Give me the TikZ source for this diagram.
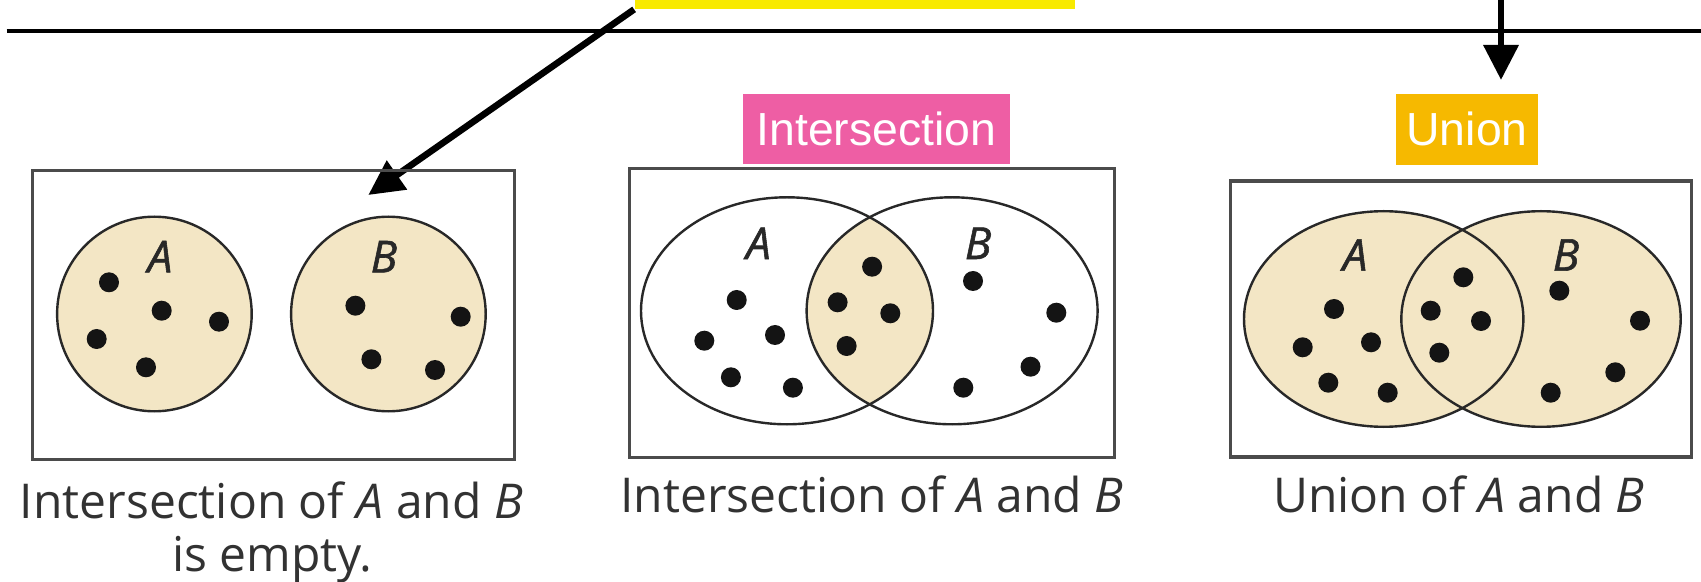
\documentclass[tikz,border=0pt]{standalone}
\usepackage{fontspec}
\newfontfamily\capfont{Open Sans}
\newfontfamily\labfont{Liberation Sans}
\usetikzlibrary{arrows.meta,shapes.geometric}
\definecolor{venn}{RGB}{243,230,197}
\definecolor{pinkbg}{RGB}{238,94,164}
\definecolor{orangebg}{RGB}{246,185,0}
\definecolor{yellowbg}{RGB}{248,234,0}
\definecolor{setline}{RGB}{40,40,40}
\definecolor{boxline}{RGB}{75,75,75}
\definecolor{captext}{RGB}{50,50,50}
\definecolor{dotc}{RGB}{20,20,20}
\begin{document}
\begin{tikzpicture}[x=0.5pt,y=-0.5pt,
  frame/.style={draw=boxline,line width=1.6pt,inner sep=0pt},
  setshape/.style={draw=setline,line width=1.2pt,inner sep=0pt},
  setlabel/.style={font=\capfont\itshape\addfontfeatures{FakeBold=1.3}\fontsize{22}{26}\selectfont,text=setline,inner sep=0pt},
  caption/.style={font=\capfont\fontsize{24}{28}\selectfont,text=captext,anchor=base,inner sep=0pt},
  tag/.style={font=\labfont\fontsize{23.2}{27}\selectfont,text=white,inner sep=0pt},
  arr/.style={line width=3.3pt,-{Triangle[length=17.5pt,width=17pt]}},
  rule/.style={line width=2pt}
]
\useasboundingbox (0,0) rectangle (1701,582);
\fill[white] (0,0) rectangle (1701,582);

% top
\node[fill=yellowbg,inner sep=0pt,minimum width=220.15pt,minimum height=24.5pt] (src) at (854.65,-15.5) {};
\draw[rule] (6.5,30.7) -- (1701,30.7);
\coordinate (tip1) at (368.3,195);
\coordinate (top2) at (1501,-10);
\coordinate (tip2) at (1501,80);
\draw[arr] (src.south west) -- (tip1);
\draw[arr] (top2) -- (tip2);

% tags
\node[tag,fill=pinkbg,minimum width=133.45pt,minimum height=35pt] (inter) at (876.4,129) {Intersection};
\node[tag,fill=orangebg,minimum width=71pt,minimum height=35.3pt] (union) at (1467,129.3) {Union};

% panel 1: disjoint
\node[frame,minimum width=241.1pt,minimum height=144.3pt] (f1) at (273.2,315) {};
\node[setshape,circle,fill=venn,minimum size=97.3pt] (p1A) at (154.4,314) {};
\node[setshape,circle,fill=venn,minimum size=97.3pt] (p1B) at (388.4,314) {};
\node[setlabel] (l1A) at (160,256.7) {A};
\node[setlabel] (l1B) at (383.9,256.7) {B};
\foreach \p in {(109,282.3),(161.7,310.7),(219,321.7),(96.7,339),(146,367.3),
                (355.4,305.7),(460.7,316.7),(371.4,359.3),(435,370)}
  \fill[dotc] \p circle [radius=5pt];
\node[caption] (c1a) at (271.4,518) {Intersection of \textit{A} and \textit{B}};
\node[caption] (c1b) at (272.3,571.7) {is empty.};

% panel 2: intersection
\node[frame,minimum width=242.45pt,minimum height=144.6pt] (f2) at (871.75,312.9) {};
\begin{scope}
  \clip (787,310.8) ellipse [x radius=73pt, y radius=56.75pt];
  \fill[venn] (952.1,310.8) ellipse [x radius=72.75pt, y radius=56.75pt];
\end{scope}
\node[setshape,ellipse,minimum width=146pt,minimum height=113.5pt] (p2A) at (787,310.8) {};
\node[setshape,ellipse,minimum width=145.5pt,minimum height=113.5pt] (p2B) at (952.1,310.8) {};
\node[setlabel] (l2A) at (758.4,243.3) {A};
\node[setlabel] (l2B) at (978.1,243.3) {B};
\foreach \p in {(736.7,300),(704.3,340.7),(775,335),(730.9,377.3),(792.9,387.7),
                (872.1,266.7),(837.6,302.3),(890.3,313.3),(846.6,346),
                (973,281),(1056.3,312.7),(1030.5,366.7),(963.3,387.7)}
  \fill[dotc] \p circle [radius=5pt];
\node[caption] (c2) at (871.8,512) {Intersection of \textit{A} and \textit{B}};

% panel 3: union
\node[frame,minimum width=230.5pt,minimum height=138pt] (f3) at (1461.2,319) {};
\fill[venn] (1383.7,319) ellipse [x radius=69.85pt, y radius=53.9pt];
\fill[venn] (1541,319) ellipse [x radius=69.85pt, y radius=53.9pt];
\node[setshape,ellipse,minimum width=139.7pt,minimum height=107.8pt] (p3A) at (1383.7,319) {};
\node[setshape,ellipse,minimum width=139.7pt,minimum height=107.8pt] (p3B) at (1541,319) {};
\node[setlabel] (l3A) at (1355,255) {A};
\node[setlabel] (l3B) at (1566,255) {B};
\foreach \p in {(1334,309),(1302.7,347.3),(1371,342.3),(1328.3,382.7),(1387.7,392.7),
                (1463.3,277.3),(1430.7,310.7),(1481,321),(1439.3,352.7),
                (1559.3,290.7),(1640,320.7),(1615.3,372.3),(1550.7,392.7)}
  \fill[dotc] \p circle [radius=5pt];
\node[caption] (c3) at (1459,512) {Union of \textit{A} and \textit{B}};
\end{tikzpicture}
\end{document}
